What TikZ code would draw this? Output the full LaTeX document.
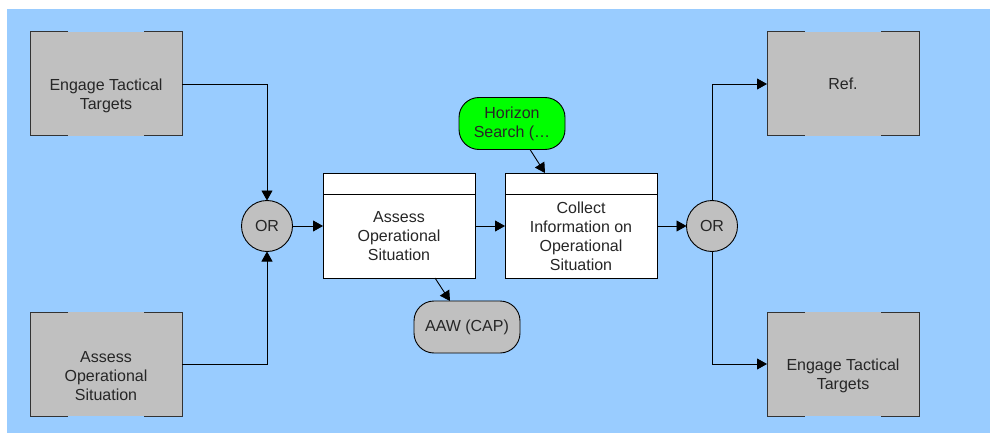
\documentclass[tikz,border=0pt]{standalone}
\usepackage{fontspec}
\setmainfont{Liberation Sans}
\usetikzlibrary{arrows.meta,positioning}
\definecolor{flow_sky}{RGB}{153,204,255}
\definecolor{flow_grey}{RGB}{192,192,192}
\definecolor{flow_green}{RGB}{0,255,0}

\begin{document}
\begin{tikzpicture}[x=1pt, y=-1pt, font=\fontsize{16}{19}\selectfont,
    every node/.style={outer sep=0pt, text=black!85},
    ext/.style={fill=flow_grey, minimum width=152pt, minimum height=104pt},
    ext text/.style={align=center, yshift=-12pt},
    edge/.style={draw=black!80, line width=1pt},
    stepbox/.style={draw, fill=white, line width=0.9pt, minimum width=152pt, minimum height=84pt, align=center},
    stephead/.style={draw, fill=white, line width=0.9pt, minimum width=152pt, minimum height=21pt},
    gate/.style={circle, draw, fill=flow_grey, line width=0.9pt, minimum size=51pt, inner sep=0pt},
    res/.style={draw, rounded corners=20pt, fill=flow_grey, line width=0.9pt, minimum width=106pt, minimum height=52pt, align=center},
    flow/.style={-{Triangle[length=10pt,width=11pt]}, line width=0.9pt}]
  \useasboundingbox (0,0) rectangle (990,433);
  \fill[flow_sky] (7,9) rectangle (990,433);

  % external functions
  \node[ext, label={[ext text]center:Engage Tactical\\Targets}] (ettL) at (106,84) {};
  \node[ext, label={[ext text]center:Assess\\Operational\\Situation}] (aosL) at (106,364) {};
  \node[ext] (ref) at (843,84) {Ref.};
  \node[ext, label={[ext text]center:Engage Tactical\\Targets}] (ettR) at (843,364) {};
  \foreach \b in {ettL,aosL,ref,ettR} {
    \draw[edge] ([xshift=38pt]\b.north west) -| (\b.south west) -- ++(38,0);
    \draw[edge] ([xshift=-38pt]\b.north east) -| (\b.south east) -- ++(-38,0);
  }

  % junctions
  \node[gate] (orL) at (267,226) {OR};
  \node[gate] (orR) at (712,226) {OR};

  % steps with empty header
  \node[stepbox] (assess) at (399,236) {Assess\\Operational\\Situation};
  \node[stephead, above=0pt of assess] (assessHd) {};
  \node[stepbox] (collect) at (581,236) {Collect\\Information on\\Operational\\Situation};
  \node[stephead, above=0pt of collect] (collectHd) {};

  % resources
  \node[res, fill=flow_green] (horizon) at (512,123.5) {Horizon\\Search (…};
  \node[res] (aaw) at (467,327) {AAW (CAP)};

  % flow
  \draw[flow] (ettL.east) -| (orL.north);
  \draw[flow] (aosL.east) -| (orL.south);
  \draw[flow] (orL.east) -- (orL -| assess.west);
  \draw[flow] (orL -| assess.east) -- (orL -| collect.west);
  \draw[flow] (orL -| collect.east) -- (orR.west);
  \draw[flow] (orR.north) |- (ref.west);
  \draw[flow] (orR.south) |- (ettR.west);
  \draw[flow] ([xshift=18pt]horizon.south) -- ([xshift=-36pt]collectHd.north);
  \draw[flow] ([xshift=36pt]assess.south) -- ([xshift=-17pt]aaw.north);
\end{tikzpicture}
\end{document}
